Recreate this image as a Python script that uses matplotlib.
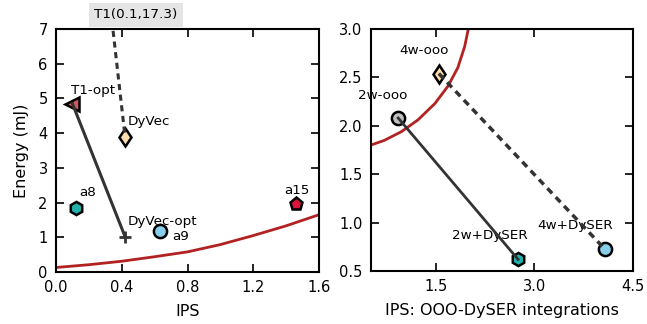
import matplotlib.pyplot as plt
import numpy as np

# left panel: named points (IPS, energy)
left_names = ['T1-opt', 'DyVec', 'DyVec-opt', 'a8', 'a9', 'a15']
left_ips = [0.10, 0.42, 0.42, 0.12, 0.63, 1.46]
left_energy = [4.85, 3.90, 1.02, 1.85, 1.18, 1.95]
left_markers = ['<', 'd', '+', 'h', 'o', 'p']
left_colors = ['#cd5c5c', '#ffdead', 'black', '#20b2aa', '#87ceeb', '#dc143c']

# T1 lies off the chart
t1_ips, t1_energy = 0.1, 17.3

# red reference curve, left
curve_l_x = [0.0, 0.2, 0.4, 0.6, 0.8, 1.0, 1.2, 1.4, 1.6]
curve_l_y = [0.13, 0.21, 0.31, 0.44, 0.58, 0.79, 1.05, 1.33, 1.65]

# right panel
right_names = ['2w-ooo', '4w-ooo', '2w+DySER', '4w+DySER']
right_ips = [0.92, 1.54, 2.75, 4.07]
right_energy = [2.08, 2.54, 0.62, 0.73]
right_markers = ['o', 'd', 'h', 'o']
right_colors = ['#c0c0c0', '#ffdead', '#20b2aa', '#87ceeb']

curve_r_x = [0.5, 0.71, 0.97, 1.22, 1.48, 1.68, 1.83, 1.935, 1.99, 2.02]
curve_r_y = [1.80, 1.85, 1.94, 2.06, 2.23, 2.41, 2.60, 2.82, 3.0, 3.1]

plt.rcParams['font.family'] = 'DejaVu Sans'
plt.rcParams['font.size'] = 10

fig = plt.figure(figsize=(6.47, 3.24), dpi=100)
ax1 = fig.add_axes([56/647, 52/324, 263/647, 243/324])
ax2 = fig.add_axes([370.7/647, 53/324, 262/647, 242/324])

for ax in (ax1, ax2):
    for s in ax.spines.values():
        s.set_linewidth(1.5)
    ax.tick_params(direction='in', length=6, width=1.2, top=True, right=True,
                   labelsize=10.5, pad=6)

dark = '#333333'
fs = 9.7

# left plot
ax1.plot(curve_l_x, curve_l_y, color='#b22222', lw=2, zorder=1)
for i in range(len(left_names)):
    if left_markers[i] == '+':
        ax1.plot(left_ips[i], left_energy[i], marker='+', color=dark, ms=9,
                 mew=2, ls='none', zorder=3)
    else:
        ax1.plot(left_ips[i], left_energy[i], marker=left_markers[i],
                 color=left_colors[i], mec='black', mew=1.8, ms=9.5, ls='none', zorder=3)
ax1.plot([t1_ips, left_ips[1]], [t1_energy, left_energy[1]], color=dark, lw=2.2,
         ls=(0, (2, 1.5)), zorder=4)
ax1.plot([left_ips[0], left_ips[2]], [left_energy[0], left_energy[2]], color=dark,
         lw=2.2, zorder=4)

ax1.text(0.09, 5.24, 'T1-opt', fontsize=fs, va='center')
ax1.text(0.436, 4.33, 'DyVec', fontsize=fs, va='center')
ax1.text(0.14, 2.28, 'a8', fontsize=fs, va='center')
ax1.text(0.436, 1.45, 'DyVec-opt', fontsize=fs, va='center')
ax1.text(0.708, 1.02, 'a9', fontsize=fs, va='center')
ax1.text(1.387, 2.36, 'a15', fontsize=fs, va='center')
ax1.text(0.304, 1.058, 'T1(0.1,17.3)', fontsize=fs, ha='center', va='center',
         transform=ax1.transAxes,
         bbox=dict(boxstyle='square,pad=0.4', facecolor='#e5e5e5', edgecolor='none'))

ax1.set_xlim(0, 1.6)
ax1.set_ylim(0, 7)
ax1.set_xticks([0.0, 0.4, 0.8, 1.2, 1.6])
ax1.set_yticks(range(0, 8))
ax1.set_xlabel('IPS', fontsize=11.5, labelpad=6)
ax1.set_ylabel('Energy (mJ)', fontsize=11.5, labelpad=7)

# right plot
ax2.plot(curve_r_x, curve_r_y, color='#b22222', lw=2, zorder=1)
for i in range(len(right_names)):
    ax2.plot(right_ips[i], right_energy[i], marker=right_markers[i],
             color=right_colors[i], mec='black', mew=1.8, ms=9.5, ls='none', zorder=3)
ax2.plot([right_ips[0], right_ips[2]], [right_energy[0], right_energy[2]],
         color=dark, lw=2, zorder=4)
ax2.plot([right_ips[1], right_ips[3]], [right_energy[1], right_energy[3]],
         color=dark, lw=2.5, ls=(0, (2, 1.5)), zorder=4)

ax2.text(0.30, 2.31, '2w-ooo', fontsize=fs, va='center', clip_on=False)
ax2.text(0.93, 2.78, '4w-ooo', fontsize=fs, va='center')
ax2.text(1.74, 0.87, '2w+DySER', fontsize=fs, va='center')
ax2.text(3.04, 0.975, '4w+DySER', fontsize=fs, va='center')

ax2.set_xlim(0.5, 4.5)
ax2.set_ylim(0.5, 3.0)
ax2.set_xticks([1.5, 3.0, 4.5])
ax2.set_yticks([0.5, 1.0, 1.5, 2.0, 2.5, 3.0])
ax2.set_xlabel('IPS: OOO-DySER integrations', fontsize=11.5, labelpad=6)

plt.savefig('out.png', dpi=100)
